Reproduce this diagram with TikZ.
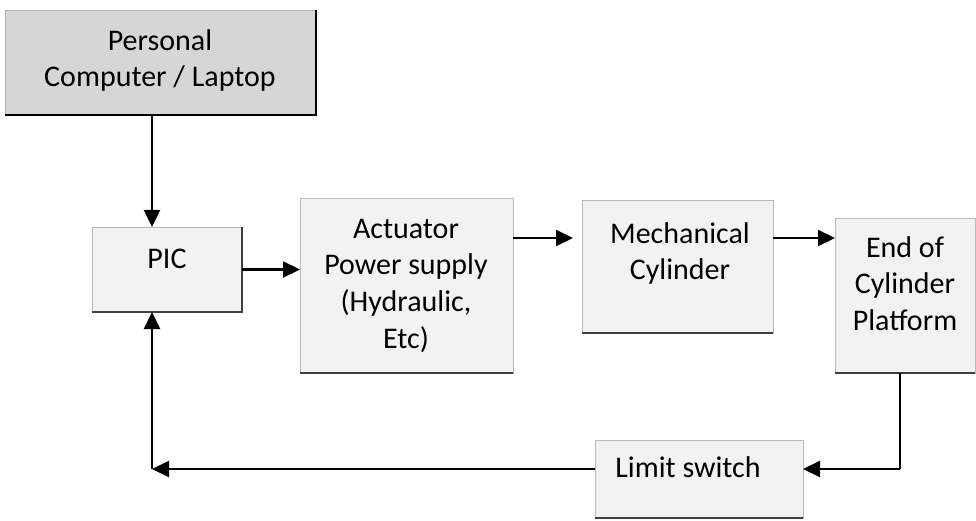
\documentclass[tikz,border=0pt]{standalone}
\usepackage{fontspec}
\setmainfont{Carlito}
\usetikzlibrary{arrows.meta}
\begin{document}
\begin{tikzpicture}[x=1pt,y=-1pt,
  lbox/.style={rectangle, inner sep=0pt, outer sep=0pt, fill=gray!10, draw=gray!55, line width=0.8pt},
  dbox/.style={rectangle, inner sep=0pt, outer sep=0pt, fill=gray!32, draw=gray!60, line width=0.8pt},
  edge/.style={draw=black!75, line width=2.4pt},
  txt/.style={font=\fontsize{30}{36.6}\selectfont, align=center, inner sep=0pt, anchor=north, text=black},
  arr/.style={line width=2.2pt, -{Triangle[length=17pt,width=16pt]}},
  ln/.style={line width=2.2pt}]
\useasboundingbox (0,0) rectangle (976,521);
% boxes
\node[dbox, minimum width=311pt, minimum height=105pt] (pc) at (160.5,62.5) {};
\node[lbox, minimum width=150pt, minimum height=85pt] (pic) at (167,269.5) {};
\node[lbox, minimum width=213pt, minimum height=175pt] (act) at (406.5,285.5) {};
\node[lbox, minimum width=191pt, minimum height=133pt] (mech) at (677.5,266.5) {};
\node[lbox, minimum width=140pt, minimum height=155pt] (end) at (905,295.5) {};
\node[lbox, minimum width=208pt, minimum height=78pt] (ls) at (699,479) {};
% darker bottom / right edges
\draw[edge, draw=black] (pc.south west) -- (pc.south east) -- (pc.north east);
\draw[edge] (pic.south west) -- (pic.south east) -- (pic.north east);
\draw[edge] (act.south west) -- (act.south east);
\draw[edge] (mech.south west) -- (mech.south east);
\draw[edge] (end.south west) -- (end.south east);
\draw[edge, line width=1.2pt] (ls.south west) -- (ls.south east);
% texts
\node[txt] (pct) at (160,24.4) {\strut Personal\\Computer / Laptop};
\node[txt] (pict) at (167,242.4) {\strut PIC};
\node[txt] (actt) at (406,212.4) {\strut Actuator\\Power supply\\(Hydraulic,\\Etc)};
\node[txt] (mecht) at (680,217.4) {\strut Mechanical\\Cylinder};
\node[txt] (endt) at (905,231.4) {\strut End of\\Cylinder\\Platform};
\node[txt] (lst) at (688,451.4) {\strut Limit switch};
% helper coordinates
\coordinate (fbx) at (152,469);
\coordinate (r1) at (573,238);
\coordinate (dn) at (900,469);
% connectors
\draw[arr] (pc.south -| fbx) -- (pic.north -| fbx);
\draw[arr] (pic.east) -- (act.west |- pic.east);
\draw[arr] (act.east |- r1) -- (r1);
\draw[arr] (mech.east |- r1) -- (end.west |- r1);
\draw[ln] (end.south -| dn) -- (dn);
\draw[arr] (dn) -- (ls.east |- dn);
\draw[arr] (ls.west |- fbx) -- (fbx);
\draw[arr] (fbx) -- (pic.south -| fbx);
\end{tikzpicture}
\end{document}
